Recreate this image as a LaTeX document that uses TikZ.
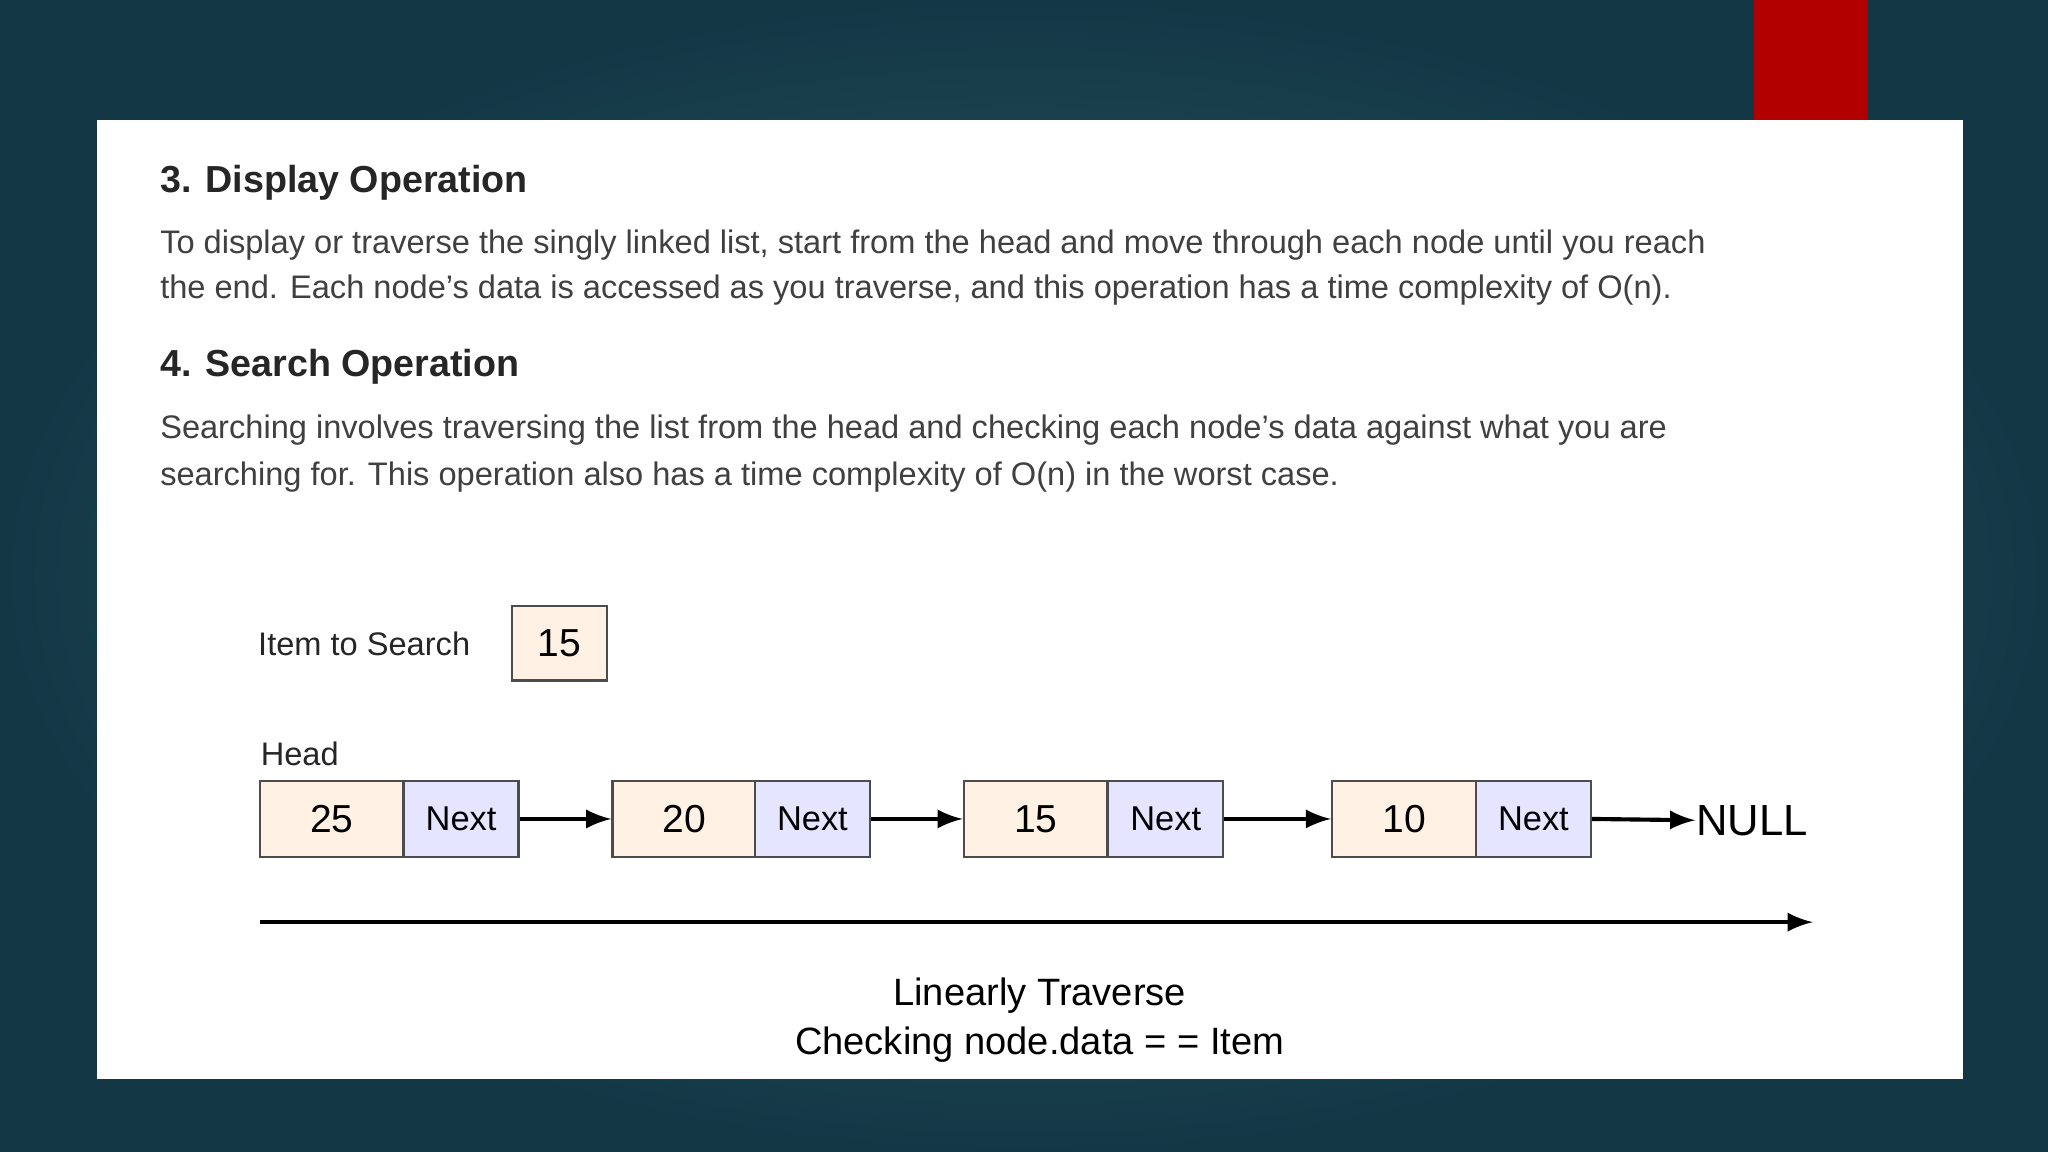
\documentclass[tikz,border=0pt]{standalone}
\usepackage{fontspec}
\setmainfont{Liberation Sans}
\begin{document}
\begin{tikzpicture}[x=0.1mm,y=-0.1mm,
 dbox/.style={draw=black!70,line width=0.5pt,fill=orange!10,minimum width=11mm,minimum height=5.8mm,inner sep=0pt,font=\fontsize{8.5}{10}\selectfont},
 nbox/.style={draw=black!70,line width=0.5pt,fill=blue!10,minimum width=8.8mm,minimum height=5.8mm,inner sep=0pt,font=\fontsize{7.5}{9}\selectfont},
 arr/.style={-latex,line width=0.9pt},
 body/.style={anchor=west,font=\fontsize{7.1}{10}\selectfont,text=black!75,inner sep=0pt}]
\useasboundingbox (0,0) rectangle (1568,882);
\shade[inner color={rgb,255:red,45;green,100;blue,100},outer color={rgb,255:red,20;green,55;blue,70}] (0,0) rectangle (1568,882);
\fill[red!70!black] (1343,0) rectangle (1430,92);
\fill[white] (74,92) rectangle (1503,826);
\node[body,font=\bfseries\fontsize{8.2}{10}\selectfont,text=black!85] (h3) at (122,140) {3. Display Operation};
\node[body] (p1) at (122,188) {To display or traverse the singly linked list, start from the head and move through each node until you reach};
\node[body] (p2) at (122,222) {the end. Each node's data is accessed as you traverse, and this operation has a time complexity of O(n).};
\node[body,font=\bfseries\fontsize{8.2}{10}\selectfont,text=black!85] (h4) at (122,281) {4. Search Operation};
\node[body] (p3) at (122,329) {Searching involves traversing the list from the head and checking each node's data against what you are};
\node[body] (p4) at (122,365) {searching for. This operation also has a time complexity of O(n) in the worst case.};
\node[body,text=black!85] (its) at (197,493) {Item to Search};
\node[dbox,minimum width=7.3mm,minimum height=5.7mm] (item) at (428.5,492.5) {15};
\node[body,text=black!85] (head) at (199,577) {Head};
\node[dbox] (d1) at (254,627) {25}; \node[nbox] (n1) at (353,627) {Next};
\node[dbox] (d2) at (524,627) {20}; \node[nbox] (n2) at (622,627) {Next};
\node[dbox] (d3) at (793,627) {15}; \node[nbox] (n3) at (892.5,627) {Next};
\node[dbox] (d4) at (1075,627) {10}; \node[nbox] (n4) at (1174,627) {Next};
\node[anchor=west,inner sep=0pt,font=\fontsize{9.5}{11}\selectfont] (null) at (1298,628) {NULL};
\draw[arr] (n1.east) -- (d2.west);
\draw[arr] (n2.east) -- (d3.west);
\draw[arr] (n3.east) -- (d4.west);
\draw[arr] (n4.east) -- (null.west);
\coordinate (t0) at (199,706); \coordinate (t1) at (1388,706);
\draw[arr] (t0) -- (t1);
\node[align=center,font=\fontsize{8.3}{10.5}\selectfont,inner sep=0pt] (lt) at (796,781) {Linearly Traverse\\Checking node.data = = Item};
\end{tikzpicture}
\end{document}
